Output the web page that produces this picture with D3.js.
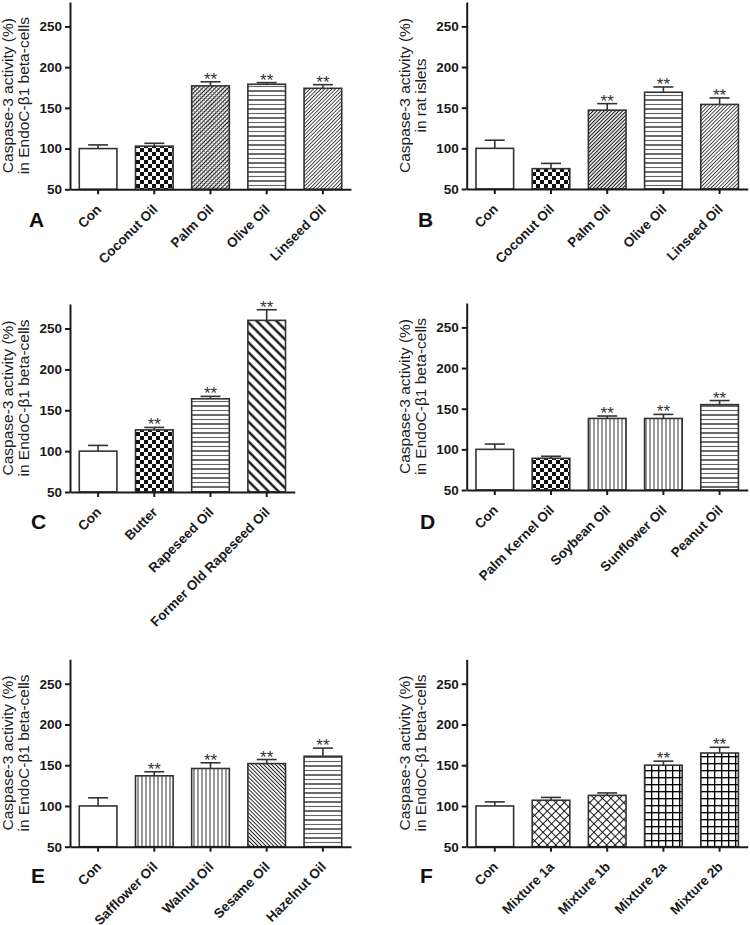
<!DOCTYPE html>
<html><head><meta charset="utf-8">
<script src="https://cdn.jsdelivr.net/npm/d3@7"></script>
<style>body{margin:0;background:#fff}svg{display:block}text{font-family:"Liberation Sans",Arial,sans-serif}</style>
</head><body><svg id="c" width="750" height="925"></svg>
<script>
// ---------- data ----------
const catsA = ["Con","Coconut Oil","Palm Oil","Olive Oil","Linseed Oil"];
const valsA = [100,103,177,179,174];
const semA  = [4.5,3.5,5,2,4.5];
const sigA  = [0,0,1,1,1];

const catsB = ["Con","Coconut Oil","Palm Oil","Olive Oil","Linseed Oil"];
const valsB = [100,75,147,169,154];
const semB  = [10,6.5,8,6.5,8];
const sigB  = [0,0,1,1,1];

const catsC = ["Con","Butter","Rapeseed Oil","Former Old Rapeseed Oil"];
const valsC = [100,126,164,260];
const semC  = [7,3,3,13];
const sigC  = [0,1,1,1];

const catsD = ["Con","Palm Kernel Oil","Soybean Oil","Sunflower Oil","Peanut Oil"];
const valsD = [100,89,138,138,155];
const semD  = [6.5,2.5,3,5,5];
const sigD  = [0,0,1,1,1];

const catsE = ["Con","Safflower Oil","Walnut Oil","Sesame Oil","Hazelnut Oil"];
const valsE = [100,137,146,152,161];
const semE  = [10,5,7,5,10];
const sigE  = [0,1,1,1,1];

const catsF = ["Con","Mixture 1a","Mixture 1b","Mixture 2a","Mixture 2b"];
const valsF = [100,107,113,150,165];
const semF  = [5,3.5,3,5,7];
const sigF  = [0,0,0,1,1];

const yTicks = [50,100,150,200,250];
const yDomain = [50,280];
const yTitle1 = "Caspase-3 activity (%)";
const yTitle2Endo = "in EndoC-\u03B21 beta-cells";
const yTitle2Rat = "in rat islets";

// ---------- patterns ----------
const svg = d3.select("#c");
const defs = svg.append("defs");
function pat(id, w, h, rot){
  const p = defs.append("pattern").attr("id",id).attr("patternUnits","userSpaceOnUse")
    .attr("width",w).attr("height",h);
  if(rot) p.attr("patternTransform",`rotate(${rot})`);
  p.append("rect").attr("width",w).attr("height",h).attr("fill","#fff");
  return p;
}
let p;
p = pat("checker",8,8); p.append("rect").attr("width",4).attr("height",4).attr("fill","#111");
p.append("rect").attr("x",4).attr("y",4).attr("width",4).attr("height",4).attr("fill","#111");
p = pat("hlines",8,9);
p.append("line").attr("x1",0).attr("x2",8).attr("y1",1).attr("y2",1).attr("stroke","#1a1a1a").attr("stroke-width",1.3);
p.append("line").attr("x1",0).attr("x2",8).attr("y1",5.5).attr("y2",5.5).attr("stroke","#666").attr("stroke-width",1.1);
p = pat("vlines",4,8);
p.append("line").attr("x1",2).attr("x2",2).attr("y1",0).attr("y2",8).attr("stroke","#444").attr("stroke-width",1.1);
p = pat("diagFwd",2.6,2.6,45);
p.append("line").attr("x1",1.3).attr("x2",1.3).attr("y1",0).attr("y2",2.6).attr("stroke","#333").attr("stroke-width",0.9);
p = pat("diagFwdDark",2.6,2.6,45);
p.append("line").attr("x1",1.3).attr("x2",1.3).attr("y1",0).attr("y2",2.6).attr("stroke","#111").attr("stroke-width",1.1);
p = pat("crossDense",3,3,45);
p.append("line").attr("x1",1.5).attr("x2",1.5).attr("y1",0).attr("y2",3).attr("stroke","#111").attr("stroke-width",1.1);
p.append("line").attr("x1",0).attr("x2",3).attr("y1",1.5).attr("y2",1.5).attr("stroke","#777").attr("stroke-width",0.7);
p = pat("diagBack",2.8,2.8,-45);
p.append("line").attr("x1",1.4).attr("x2",1.4).attr("y1",0).attr("y2",2.8).attr("stroke","#222").attr("stroke-width",1);
p = pat("diagBackThick",7,7,-45);
p.append("line").attr("x1",3.5).attr("x2",3.5).attr("y1",0).attr("y2",7).attr("stroke","#000").attr("stroke-width",2.2);
p = pat("diamond",6,6,45);
p.append("line").attr("x1",0).attr("x2",0).attr("y1",0).attr("y2",6).attr("stroke","#000").attr("stroke-width",1.8);
p.append("line").attr("x1",0).attr("x2",6).attr("y1",0).attr("y2",0).attr("stroke","#000").attr("stroke-width",1.8);
p = pat("grid",7,7);
p.append("line").attr("x1",0.5).attr("x2",0.5).attr("y1",0).attr("y2",7).attr("stroke","#000").attr("stroke-width",1.7);
p.append("line").attr("x1",0).attr("x2",7).attr("y1",0.5).attr("y2",0.5).attr("stroke","#000").attr("stroke-width",1.7);

// ---------- layout ----------
const step = 56.2;
const panels = [
  {letter:"A", cats:catsA, vals:valsA, sem:semA, sig:sigA, t2:yTitle2Endo,
   fills:["none","checker","crossDense","hlines","diagFwd"], x0:70, top:2, bottom:189.3, lx:29, ly:227},
  {letter:"B", cats:catsB, vals:valsB, sem:semB, sig:sigB, t2:yTitle2Rat,
   fills:["none","checker","diagFwdDark","hlines","diagFwd"], x0:466.7, top:2, bottom:189, lx:418, ly:227},
  {letter:"C", cats:catsC, vals:valsC, sem:semC, sig:sigC, t2:yTitle2Endo,
   fills:["none","checker","hlines","diagBackThick"], x0:70, top:304, bottom:492, lx:31, ly:529},
  {letter:"D", cats:catsD, vals:valsD, sem:semD, sig:sigD, t2:yTitle2Endo,
   fills:["none","checker","vlines","vlines","hlines"], x0:466.7, top:303, bottom:490, lx:420, ly:529},
  {letter:"E", cats:catsE, vals:valsE, sem:semE, sig:sigE, t2:yTitle2Endo,
   fills:["none","vlines","vlines","diagBack","hlines"], x0:70, top:659.3, bottom:846.7, lx:31, ly:883},
  {letter:"F", cats:catsF, vals:valsF, sem:semF, sig:sigF, t2:yTitle2Endo,
   fills:["none","diamond","diamond","grid","grid"], x0:466.7, top:659.3, bottom:846.7, lx:420, ly:883}
];

panels.forEach(drawPanel);

function drawPanel(P){
  const g = svg.append("g");
  const n = P.cats.length;
  const x = d3.scaleBand().domain(P.cats).range([P.x0, P.x0 + step*n])
    .paddingInner(0.33).paddingOuter(0.165);
  const y = d3.scaleLinear().domain(yDomain).range([P.bottom, P.top]);
  const bw = x.bandwidth();
  const rows = P.cats.map((c,i)=>({c, v:P.vals[i], e:P.sem[i], s:P.sig[i], f:P.fills[i]}));

  // error bars
  const eb = g.selectAll("g.eb").data(rows).join("g");
  eb.append("line").attr("x1",d=>x(d.c)+bw/2).attr("x2",d=>x(d.c)+bw/2)
    .attr("y1",d=>y(d.v)).attr("y2",d=>y(d.v+d.e)).attr("stroke","#333").attr("stroke-width",1.6);
  eb.append("line").attr("x1",d=>x(d.c)+bw/2-10).attr("x2",d=>x(d.c)+bw/2+10)
    .attr("y1",d=>y(d.v+d.e)).attr("y2",d=>y(d.v+d.e)).attr("stroke","#333").attr("stroke-width",1.6);

  // bars
  g.selectAll("rect.bar").data(rows).join("rect").attr("class","bar")
    .attr("x",d=>x(d.c)).attr("width",bw)
    .attr("y",d=>y(d.v)).attr("height",d=>y(yDomain[0])-y(d.v))
    .attr("fill",d=>d.f==="none"?"#fff":`url(#${d.f})`)
    .attr("stroke","#333").attr("stroke-width",1.6);

  // significance
  g.selectAll("text.sig").data(rows.filter(d=>d.s)).join("text").attr("class","sig")
    .attr("x",d=>x(d.c)+bw/2).attr("y",d=>y(d.v+d.e)+3)
    .attr("text-anchor","middle").style("font-size","17px").attr("fill","#333").text("**");

  // y axis
  const ya = g.append("g").attr("transform",`translate(${P.x0},0)`)
    .call(d3.axisLeft(y).tickValues(yTicks).tickSize(5).tickSizeOuter(0).tickPadding(3));
  ya.select(".domain").attr("stroke","#1a1a1a").attr("stroke-width",2);
  ya.selectAll(".tick line").attr("stroke","#1a1a1a").attr("stroke-width",2);
  ya.selectAll(".tick text").style("font-size","13.5px").style("font-weight","bold")
    .style("font-family",'"Liberation Sans",Arial,sans-serif').attr("fill","#1a1a1a");

  // x axis
  const xa = g.append("g").attr("transform",`translate(0,${P.bottom})`)
    .call(d3.axisBottom(x).tickSize(5).tickSizeOuter(0));
  xa.select(".domain").attr("stroke","#1a1a1a").attr("stroke-width",2);
  xa.selectAll(".tick line").attr("stroke","#1a1a1a").attr("stroke-width",2);
  xa.selectAll(".tick text").attr("x",0).attr("y",0).attr("dy",0)
    .attr("transform","translate(4,21) rotate(-45)").attr("text-anchor","end")
    .style("font-size","13.5px").style("font-weight","bold")
    .style("font-family",'"Liberation Sans",Arial,sans-serif').attr("fill","#1a1a1a");

  // y titles
  const cy = (P.top + P.bottom)/2;
  g.append("text").attr("transform",`translate(${P.x0-62},${cy}) rotate(-90)`)
    .attr("text-anchor","middle").attr("dy","0.35em").style("font-size","15.5px").attr("fill","#222").text(yTitle1);
  g.append("text").attr("transform",`translate(${P.x0-46},${cy}) rotate(-90)`)
    .attr("text-anchor","middle").attr("dy","0.35em").style("font-size","15.5px").attr("fill","#222").text(P.t2);

  // panel letter
  g.append("text").attr("x",P.lx).attr("y",P.ly).style("font-size","21px").style("font-weight","bold")
    .attr("fill","#111").text(P.letter);
}
</script></body></html>
